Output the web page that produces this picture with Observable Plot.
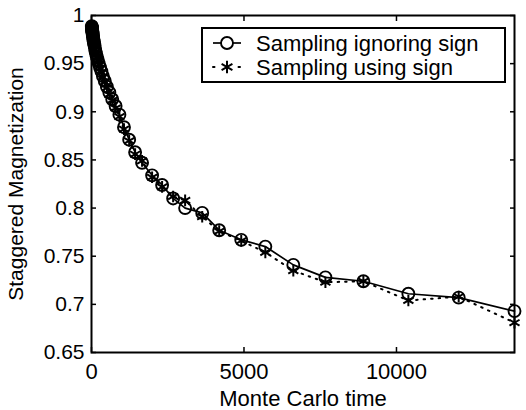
<!DOCTYPE html>
<html><head><meta charset="utf-8">
<script src="https://cdn.jsdelivr.net/npm/d3@7"></script>
<script src="https://cdn.jsdelivr.net/npm/@observablehq/plot@0.6"></script>
<style>
body{margin:0;background:#fff;}
#wrap{position:relative;width:526px;height:410px;font-family:"Liberation Sans",Arial,sans-serif;}
#legend{position:absolute;left:201px;top:27px;}
</style>
</head><body><div id="wrap"></div>
<script>
const mcTime = [10, 12, 14, 16, 19, 22, 26, 30, 35, 40, 47, 54, 63, 73, 85, 98, 114, 132, 153, 178, 205, 240, 280, 325, 375, 435, 505, 585, 680, 790, 915, 1065, 1235, 1430, 1658, 1987, 2315, 2677, 3070, 3630, 4187, 4910, 5700, 6617, 7670, 8915, 10390, 12040, 13870];
const magIgnoring = [0.989,0.988,0.988,0.987,0.986,0.985,0.984,0.983,0.982,0.980,0.979,0.977,0.975,0.973,0.971,0.969,0.966,0.963,0.960,0.957,0.954,0.950,0.946,0.942,0.937,0.932,0.926,0.920,0.913,0.906,0.897,0.884,0.871,0.858,0.847,0.834,0.824,0.810,0.800,0.795,0.777,0.767,0.760,0.741,0.728,0.724,0.711,0.707,0.693];
const magUsing = [0.989,0.988,0.987,0.987,0.986,0.985,0.984,0.983,0.981,0.980,0.978,0.977,0.975,0.973,0.970,0.968,0.965,0.962,0.960,0.956,0.953,0.949,0.945,0.941,0.936,0.931,0.925,0.918,0.912,0.904,0.895,0.882,0.870,0.856,0.849,0.832,0.822,0.812,0.808,0.791,0.776,0.766,0.754,0.735,0.723,0.724,0.704,0.708,0.681];
const xTicks = [0, 5000, 10000];
const yTicks = [0.65, 0.7, 0.75, 0.8, 0.85, 0.9, 0.95, 1];
const seriesNames = ["Sampling ignoring sign", "Sampling using sign"];
const xLabel = "Monte Carlo time";
const yLabel = "Staggered Magnetization";

const ignoring = mcTime.map((t, i) => ({t, m: magIgnoring[i]}));
const using = mcTime.map((t, i) => ({t, m: magUsing[i]}));
const fmt = d => String(+d.toFixed(2));

const chart = Plot.plot({
  width: 526, height: 410,
  marginLeft: 91, marginRight: 12, marginTop: 15, marginBottom: 58,
  x: {domain: [0, 13870]},
  y: {domain: [0.65, 1]},
  style: {fontFamily: '"Liberation Sans", Arial, sans-serif', fontSize: "21px", color: "#000", background: "#fff"},
  marks: [
    Plot.line(using, {x: "t", y: "m", stroke: "#000", strokeWidth: 2, strokeDasharray: "1.5,6", strokeLinecap: "round"}),
    Plot.line(ignoring, {x: "t", y: "m", stroke: "#000", strokeWidth: 1.7}),
    Plot.dot(using, {x: "t", y: "m", symbol: "asterisk", r: 5.5, stroke: "#000", strokeWidth: 2}),
    Plot.dot(ignoring, {x: "t", y: "m", symbol: "circle", r: 6, stroke: "#000", fill: "none", strokeWidth: 1.9}),
    Plot.axisX({ticks: xTicks, tickSize: -5, tickPadding: 16, tickFormat: d => String(d), label: xLabel, labelAnchor: "center", labelOffset: 53, labelArrow: "none", fontSize: 22, strokeWidth: 1.5}),
    Plot.axisX({anchor: "top", ticks: xTicks, tickSize: -5, tickFormat: () => "", label: null, strokeWidth: 1.5}),
    Plot.axisY({ticks: yTicks, tickSize: -5, tickPadding: 12, tickFormat: fmt, label: yLabel, labelAnchor: "center", labelOffset: 83, labelArrow: "none", strokeWidth: 1.5}),
    Plot.axisY({anchor: "right", ticks: yTicks, tickSize: -5, tickFormat: () => "", label: null, strokeWidth: 1.5}),
    Plot.frame({stroke: "#000", strokeWidth: 2})
  ]
});
const wrap = document.getElementById("wrap");
wrap.appendChild(chart);

// legend overlay
const lw = 305, lh = 56;
const leg = d3.select(wrap).append("div").attr("id", "legend")
  .append("svg").attr("width", lw).attr("height", lh);
leg.append("rect").attr("x", 1).attr("y", 1).attr("width", lw - 2).attr("height", lh - 2)
  .attr("fill", "#fff").attr("stroke", "#000").attr("stroke-width", 2);
const rowY = [16, 40];
leg.append("line").attr("x1", 12).attr("x2", 40).attr("y1", rowY[0]).attr("y2", rowY[0]).attr("stroke", "#000").attr("stroke-width", 1.7);
leg.append("circle").attr("cx", 26).attr("cy", rowY[0]).attr("r", 6).attr("fill", "#fff").attr("stroke", "#000").attr("stroke-width", 1.9);
leg.append("line").attr("x1", 12).attr("x2", 40).attr("y1", rowY[1]).attr("y2", rowY[1]).attr("stroke", "#000").attr("stroke-width", 2).attr("stroke-dasharray", "1.5,24").attr("stroke-linecap", "round");
leg.append("path").attr("transform", `translate(26,${rowY[1]})`).attr("d", d3.symbol(d3.symbolAsterisk, 110)()).attr("stroke", "#000").attr("stroke-width", 2).attr("fill", "none");
seriesNames.forEach((n, i) => {
  leg.append("text").attr("x", 55).attr("y", rowY[i]).attr("dy", "0.36em")
    .attr("font-family", '"Liberation Sans", Arial, sans-serif').attr("font-size", "22px").text(n);
});
</script>
</body></html>
